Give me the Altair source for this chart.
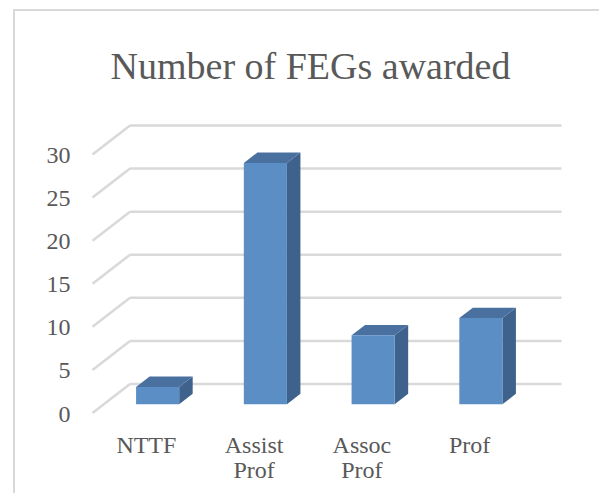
import altair as alt
import pandas as pd

# ---- data ----
categories = ["NTTF", "Assist\nProf", "Assoc\nProf", "Prof"]
values = [2, 28, 8, 10]
y_ticks = [0, 5, 10, 15, 20, 25, 30]
title_text = "Number of FEGs awarded"

# ---- geometry (style) ----
PX_U = 107.75          # px per category slot
PX_V = 8.618           # px per value unit
W, H = 469, 293
XMAX = W / PX_U
YMAX = H / PX_V
FDX = 37.5 / PX_U      # floor depth in x units
FDY = 29.0 / PX_V      # floor depth in y units
BAR_F, BAR_B = 0.30, 0.66
HALF = 0.2

FONT = "Liberation Serif"
TXT = "#595959"
GRID = "#d9d9d9"
C_FRONT, C_TOP, C_SIDE = "#5A8EC4", "#4A70A0", "#3F628C"

xs = alt.Scale(domain=[0, XMAX], nice=False, zero=False)
ys = alt.Scale(domain=[0, YMAX], nice=False, zero=False)

front_rows, side_rows, top_rows = [], [], []
ddx = (BAR_B - BAR_F) * FDX
ddy = (BAR_B - BAR_F) * FDY
for i, (c, v) in enumerate(zip(categories, values)):
    cx = i + 0.5
    xl = cx - HALF + BAR_F * FDX
    xr = cx + HALF + BAR_F * FDX
    yb = BAR_F * FDY
    yt = yb + v
    front_rows.append(dict(cat=c, xl=xl, xr=xr, yb=yb, yt=yt))
    side_rows.append(dict(cat=c, x=xr, y=yb, y2=yt))
    side_rows.append(dict(cat=c, x=xr + ddx, y=yb + ddy, y2=yt + ddy))
    top_rows.append(dict(cat=c, y=yt, x=xl, x2=xr))
    top_rows.append(dict(cat=c, y=yt + ddy, x=xl + ddx, x2=xr + ddx))

grid_rows = [dict(t=t, lab=str(t), fx=0.0, bx=FDX, ex=XMAX, fy=t, by=t + FDY) for t in y_ticks]
label_rows = [dict(cat=c, x=i + 0.5, y=0.0) for i, c in enumerate(categories)]

border = alt.Chart(pd.DataFrame({"a": [0]})).mark_rect(
    fillOpacity=0, stroke=GRID, strokeWidth=2
).encode(
    x=alt.value(14 - 92.5), x2=alt.value(640), y=alt.value(10 - 120), y2=alt.value(520)
)

gdf = pd.DataFrame(grid_rows)
diag = alt.Chart(gdf).mark_rule(color=GRID, strokeWidth=2.5).encode(
    x=alt.X("fx:Q", scale=xs, axis=None),
    x2="bx:Q",
    y=alt.Y("fy:Q", scale=ys, axis=None),
    y2="by:Q",
)
back = alt.Chart(gdf).mark_rule(color=GRID, strokeWidth=2.5).encode(
    x=alt.X("bx:Q", scale=xs, axis=None),
    x2="ex:Q",
    y=alt.Y("by:Q", scale=ys, axis=None),
)
ylabels = alt.Chart(gdf).mark_text(
    font=FONT, fontSize=24, color=TXT, align="right", baseline="middle", dy=1.5
).encode(
    x=alt.value(-22),
    y=alt.Y("fy:Q", scale=ys, axis=None),
    text="lab:N",
)

side = alt.Chart(pd.DataFrame(side_rows)).mark_area(color=C_SIDE, orient="vertical").encode(
    x=alt.X("x:Q", scale=xs, axis=None),
    y=alt.Y("y:Q", scale=ys, axis=None),
    y2="y2:Q",
    detail="cat:N",
)
top = alt.Chart(pd.DataFrame(top_rows)).mark_area(color=C_TOP, orient="horizontal").encode(
    y=alt.Y("y:Q", scale=ys, axis=None),
    x=alt.X("x:Q", scale=xs, axis=None),
    x2="x2:Q",
    detail="cat:N",
)
front = alt.Chart(pd.DataFrame(front_rows)).mark_rect(color=C_FRONT).encode(
    x=alt.X("xl:Q", scale=xs, axis=None),
    x2="xr:Q",
    y=alt.Y("yb:Q", scale=ys, axis=None),
    y2="yt:Q",
)

labels = alt.Chart(pd.DataFrame(label_rows)).mark_text(
    font=FONT, fontSize=24, color=TXT, baseline="alphabetic", align="center",
    lineBreak="\n", lineHeight=25, dy=39.5
).encode(
    x=alt.X("x:Q", scale=xs, axis=None),
    y=alt.Y("y:Q", scale=ys, axis=None),
    text="cat:N",
)

title = alt.Chart(pd.DataFrame({"t": [title_text]})).mark_text(
    font=FONT, fontSize=38, color=TXT, baseline="alphabetic", align="center"
).encode(
    x=alt.value(310.5 - 92.5),
    y=alt.value(79 - 120),
    text="t:N",
)

chart = alt.layer(border, diag, back, ylabels, side, top, front, labels, title).properties(
    width=W, height=H,
    padding={"left": 84.5, "top": 112, "right": 37, "bottom": 80},
    autosize="none",
).configure_view(strokeWidth=0)

chart.save("out.html", embed_options={"renderer": "svg", "actions": False})
